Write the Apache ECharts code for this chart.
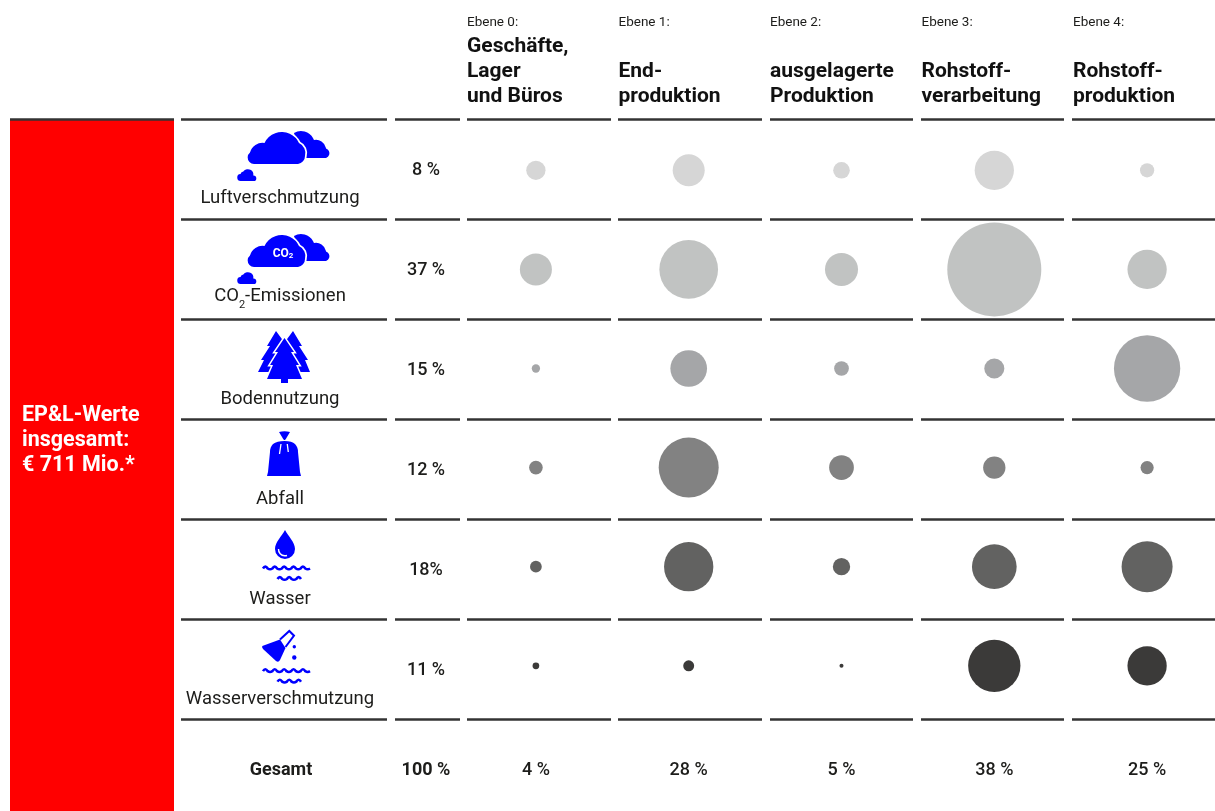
<!DOCTYPE html>
<html>
<head>
<meta charset="utf-8">
<style>
  html, body { margin: 0; padding: 0; background: #fff; }
  #main { width: 1215px; height: 811px; }
</style>
</head>
<body>
<div id="main"></div>
<script src="https://cdn.jsdelivr.net/npm/echarts@6/dist/echarts.min.js"></script>
<script>
// Daten
var levels = ['Ebene 0:', 'Ebene 1:', 'Ebene 2:', 'Ebene 3:', 'Ebene 4:'];
var titles = [
  ['Geschäfte,', 'Lager', 'und Büros'],
  ['', 'End-', 'produktion'],
  ['', 'ausgelagerte', 'Produktion'],
  ['', 'Rohstoff-', 'verarbeitung'],
  ['', 'Rohstoff-', 'produktion']
];
var rowNames = ['Luftverschmutzung', 'CO2-Emissionen', 'Bodennutzung', 'Abfall', 'Wasser', 'Wasserverschmutzung'];
var rowShares = ['8 %', '37 %', '15 %', '12 %', '18%', '11 %', '100 %'];
var columnTotals = ['4 %', '28 %', '5 %', '38 %', '25 %'];
var totalName = 'Gesamt';

// Werte in Mio. Euro, aus den Kreisflächen geschätzt
var luft = [6.2, 17.1, 4.6, 25.7, 3.4];
var co2 = [17.1, 57.4, 18.2, 147.3, 25.7];
var boden = [1.15, 22.4, 3.6, 6.7, 73.3];
var abfall = [3.1, 60, 10.2, 8.3, 2.9];
var wasser = [2.3, 40.5, 5, 33.3, 43.4];
var verschmutzung = [0.75, 2, 0.27, 45.6, 25.7];

var rowValues = [luft, co2, boden, abfall, wasser, verschmutzung];
var rowColors = ['#d6d6d6', '#c1c3c2', '#a5a6a8', '#828282', '#626261', '#3b3a39'];

var FONT = 'Roboto';
var TEXT = '#1d1d1b';
var BLUE = '#0000ff';

var myChart = echarts.init(document.getElementById('main'));

// Kreise
var series = rowValues.map(function (values, r) {
  return {
    name: rowNames[r],
    type: 'scatter',
    xAxisIndex: 0,
    yAxisIndex: 0,
    silent: true,
    animation: false,
    itemStyle: { color: rowColors[r], opacity: 1 },
    symbolSize: function (d) {
      return Math.sqrt(d[2] * 60);
    },
    data: values.map(function (v, c) {
      return [c, r, v];
    })
  };
});

// Trennlinien
var ruleSpans = [[181, 387], [395, 460], [467, 611], [618, 762], [770, 913], [921, 1064], [1072, 1215]];
var ruleRows = [119.5, 219.5, 319.5, 419.5, 519.5, 619.5, 719.5];
var graphics = [
  { type: 'rect', shape: { x: 10, y: 120, width: 164, height: 691 }, style: { fill: '#ff0000' } },
  { type: 'line', shape: { x1: 10, y1: 119.5, x2: 174, y2: 119.5 }, style: { stroke: '#333', lineWidth: 2.4 } },
  {
    type: 'text', x: 22, y: 403,
    style: {
      text: 'EP&L-Werte\ninsgesamt:\n€ 711 Mio.*',
      fill: '#fff', font: 'bold 21.5px ' + FONT, lineHeight: 25
    }
  }
];
ruleRows.forEach(function (y) {
  ruleSpans.forEach(function (s) {
    graphics.push({ type: 'line', shape: { x1: s[0], y1: y, x2: s[1], y2: y }, style: { stroke: '#333', lineWidth: 2.4 } });
  });
});

// Icons: der graphic-Baustein kennt kein 'path', darum als eigene Formen registrieren
var shapeCount = 0;
function pathType(d) {
  var name = 'icon' + (shapeCount++);
  echarts.graphic.registerShape(name, echarts.graphic.extendPath(d, {}));
  return name;
}
function fill(d, extra) {
  var style = { fill: BLUE };
  if (extra) {
    style.stroke = '#fff';
    style.lineWidth = extra;
  }
  return { type: pathType(d), shape: {}, style: style };
}
function stroke(d, color, w) {
  return { type: pathType(d), shape: {}, style: { fill: 'none', stroke: color, lineWidth: w } };
}
function wave(x, y, n) {
  var d = 'M' + x + ' ' + y + ' q2.3 -3.8 4.7 0';
  for (var i = 1; i < n; i++) {
    d += ' q2.3 ' + (i % 2 ? 1.5 : -3.8) + ' 4.7 0';
  }
  return d;
}
function waves() {
  return [stroke(wave(263, 568.5, 10), BLUE, 2.6), stroke(wave(277.5, 579, 5), BLUE, 2.6)];
}
function clouds(dy) {
  var main = 'M254 164 A6.5 6.5 0 0 1 250 152.5 A13 13 0 0 1 264.5 143 A19 19 0 0 1 299 143 A11 11 0 0 1 305 156 A8 8 0 0 1 298 164 Z';
  return {
    type: 'group', y: dy,
    children: [
      fill('M294 133 A14 14 0 0 1 314 140 A10 10 0 0 1 326 148.5 A5 5 0 0 1 326 158 L300 158 Z'),
      fill(main, 3.5),
      fill(main),
      fill('M241 181 A3.5 3.5 0 0 1 240.5 174 A3.5 3.5 0 0 1 243.3 171.6 A5.5 5.5 0 0 1 253.3 175.5 A3 3 0 0 1 255 181 Z')
    ]
  };
}
graphics.push(clouds(0));
graphics.push(clouds(103));
graphics.push({
  type: 'text', x: 283, y: 254,
  style: {
    text: '{a|CO}{b|2}',
    align: 'center', verticalAlign: 'middle',
    rich: {
      a: { fill: '#fff', font: 'bold 12px ' + FONT },
      b: { fill: '#fff', font: 'bold 8px ' + FONT, verticalAlign: 'bottom' }
    }
  }
});
var sideTree = 'M276 331 L267 346 L270 346 L261 360 L264 360 L258 372 L275 372 L290 350 Z';
var mainTree = 'M284.5 338 L294 352 L291 352 L299 365 L296 365 L302 379 L288 379 L288 383 L281 383 L281 379 L267 379 L273 365 L270 365 L278 352 L275 352 Z';
graphics.push(fill(sideTree));
graphics.push(fill('M293 331 L302 346 L299 346 L308 360 L305 360 L310 372 L294 372 L279 350 Z'));
graphics.push(fill(mainTree, 3));
graphics.push(fill(mainTree));
// Sack
graphics.push(fill('M279 432 Q284.5 430.5 290 432 L287 437 Q286 439 285 440 L284 440 Q283 439 282 437 Z'));
graphics.push(fill('M284.5 441 Q292 441 295 444 Q298 447 298 452 L300 472 L301 476 L267 476 L268 472 L270 452 Q270 447 273 444 Q277 441 284.5 441 Z'));
graphics.push(stroke('M281 444 L279.5 454', '#fff', 1.3));
graphics.push(stroke('M287.3 444 L288.3 452', '#fff', 1.3));
// Tropfen
graphics.push(fill('M285 530 C288 536 295 542 295 549 A10 10 0 0 1 275 549 C275 542 282 536 285 530 Z'));
graphics.push(stroke('M278.5 549 A6.5 6.5 0 0 0 287 555.5', '#fff', 1.4));
waves().forEach(function (w) { graphics.push(w); });
// Kolben
graphics.push(fill('M262.3 646 L280 639.5 L285.5 648 L280 660 Q278.5 663 276 661 L263 649 Q261.5 647 262.3 646 Z'));
graphics.push(stroke('M280 639.5 L289.3 631 L294 635.7 L285.5 647', BLUE, 2));
graphics.push({ type: 'circle', shape: { cx: 294.3, cy: 646.7, r: 1.7 }, style: { fill: BLUE } });
graphics.push({ type: 'circle', shape: { cx: 294.3, cy: 657.5, r: 2.2 }, style: { fill: BLUE } });
waves().forEach(function (w) {
  w.y = 102.7;
  graphics.push(w);
});

var option = {
  backgroundColor: '#fff',
  animation: false,
  textStyle: { fontFamily: FONT },
  grid: [
    { left: 459.5, top: 120.75, width: 764, height: 594.6, outerBoundsMode: 'none' }, // Kreise
    { left: 280, top: 148.4, width: 100, height: 601.2, outerBoundsMode: 'none' },    // Zeilennamen
    { left: 426, top: 120, width: 30, height: 700, outerBoundsMode: 'none' },         // Anteile
    { left: 467, top: 110, width: 606, height: 5, outerBoundsMode: 'none' }           // Kopfzeile
  ],
  xAxis: [
    {
      gridIndex: 0,
      type: 'category',
      position: 'bottom',
      data: columnTotals,
      axisLine: { show: false },
      axisTick: { show: false },
      axisLabel: { interval: 0, color: TEXT, fontSize: 18, fontWeight: 500, margin: 46.5, fontFamily: FONT }
    },
    { gridIndex: 1, type: 'value', show: false },
    { gridIndex: 2, type: 'value', show: false },
    {
      gridIndex: 3,
      type: 'category',
      position: 'top',
      boundaryGap: false,
      data: levels,
      axisLine: { show: false },
      axisTick: { show: false },
      axisLabel: {
        interval: 0,
        margin: 1,
        align: 'left',
        verticalAlign: 'bottom',
        formatter: function (value, i) {
          var t = titles[i].map(function (line) {
            return '{b|' + (line || ' ') + '}';
          });
          return '{s|' + value + '}\n' + t.join('\n');
        },
        rich: {
          s: { fontSize: 13.5, color: TEXT, lineHeight: 22, fontFamily: FONT },
          b: { fontSize: 21, fontWeight: 'bold', color: '#111', lineHeight: 25, fontFamily: FONT }
        }
      }
    }
  ],
  yAxis: [
    { gridIndex: 0, type: 'category', inverse: true, show: false, data: rowNames },
    {
      gridIndex: 1,
      type: 'category',
      inverse: true,
      data: rowNames,
      axisLine: { show: false },
      axisTick: { show: false },
      axisLabel: {
        interval: 0,
        margin: 0,
        align: 'center',
        color: TEXT,
        fontSize: 18.5,
        fontFamily: FONT,
        formatter: function (value) {
          if (value.indexOf('CO2') === 0) {
            return '{n|CO}{u|2}{n|' + value.slice(3) + '}';
          }
          return value;
        },
        rich: {
          n: { fontSize: 18.5, color: TEXT, fontFamily: FONT, padding: [0, 0, 5, 0] },
          u: { fontSize: 11, color: TEXT, fontFamily: FONT, verticalAlign: 'bottom', padding: [8, 0, 0, 0] }
        }
      }
    },
    {
      gridIndex: 2,
      type: 'category',
      inverse: true,
      data: rowShares,
      axisLine: { show: false },
      axisTick: { show: false },
      axisLabel: {
        interval: 0,
        margin: 0,
        align: 'center',
        formatter: function (value, i) {
          return (i === rowShares.length - 1 ? '{t|' : '{n|') + value + '}';
        },
        rich: {
          n: { fontSize: 18, color: TEXT, fontWeight: 500, fontFamily: FONT },
          t: { fontSize: 18, color: TEXT, fontWeight: 'bold', fontFamily: FONT }
        }
      }
    },
    {
      gridIndex: 2,
      type: 'category',
      position: 'left',
      inverse: true,
      data: rowShares,
      axisLine: { show: false },
      axisTick: { show: false },
      axisLabel: {
        interval: 0,
        margin: 145,
        align: 'center',
        color: TEXT,
        fontSize: 18,
        fontWeight: 'bold',
        fontFamily: FONT,
        formatter: function (value, i) {
          return i === rowShares.length - 1 ? totalName : '';
        }
      }
    },
    { gridIndex: 3, type: 'value', show: false }
  ],
  graphic: { elements: graphics },
  series: series
};

myChart.setOption(option);
window.addEventListener('resize', function () {
  myChart.resize();
});
</script>
</body>
</html>
